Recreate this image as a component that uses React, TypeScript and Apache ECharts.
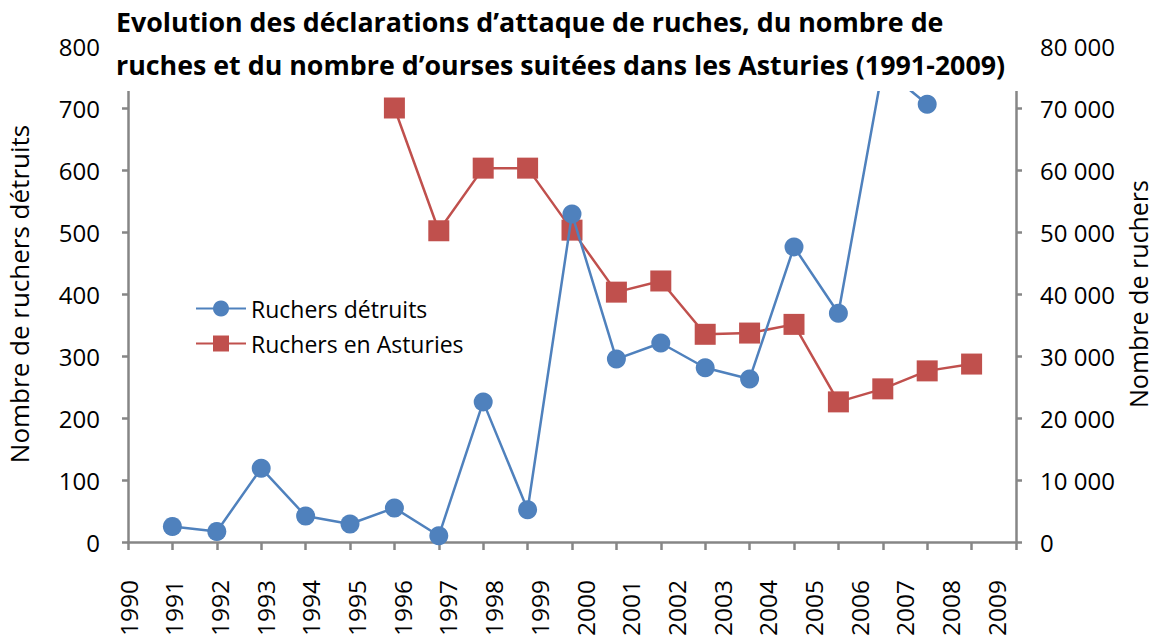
import React, { useEffect, useRef } from "react";
import * as echarts from "echarts";

const years = ["1990","1991","1992","1993","1994","1995","1996","1997","1998","1999","2000","2001","2002","2003","2004","2005","2006","2007","2008","2009","2010"];
const ruchersDetruits = [null, 25, 17, 119, 42, 29, 55, 10, 226, 52, 529, 295, 321, 281, 263, 476, 369, 765, 706, null, null];
const ruchersAsturies = [null, null, null, null, null, null, 70000, 50200, 60300, 60300, 50300, 40300, 42100, 33500, 33700, 35100, 22600, 24700, 27600, 28700, null];
const leftTicks = [0, 100, 200, 300, 400, 500, 600, 700, 800];
const rightTicks = [0, 10000, 20000, 30000, 40000, 50000, 60000, 70000, 80000];

const FONT = "Open Sans";
const AXIS_COLOR = "#868686";

export default function App() {
  const ref = useRef<HTMLDivElement>(null);
  useEffect(() => {
    if (!ref.current) return;
    const chart = echarts.init(ref.current, null, { renderer: "svg" });
    const fmt = (v: number) => String(v).replace(/\B(?=(\d{3})+(?!\d))/g, " ");
    chart.setOption({
      animation: false,
      backgroundColor: "#ffffff",
      title: {
        text: "Evolution des déclarations d’attaque de ruches, du nombre de\nruches et du nombre d’ourses suitées dans les Asturies (1991-2009)",
        left: 116,
        top: 0,
        padding: 0,
        z: 10,
        textStyle: { fontFamily: FONT, fontWeight: "bold", fontSize: 26.8, lineHeight: 43, color: "#000" },
      },
      legend: {
        orient: "vertical",
        left: 190,
        top: 292,
        itemWidth: 50,
        itemHeight: 20,
        itemGap: 12,
        textStyle: { fontFamily: FONT, fontSize: 23, color: "#000", lineHeight: 20 },
        data: ["Ruchers détruits", "Ruchers en Asturies"],
      },
      grid: [
        { left: 128, width: 888, top: 46, height: 496, containLabel: false, outerBoundsMode: "none" },
        { left: 128, width: 914, top: 46, height: 496, containLabel: false, outerBoundsMode: "none" },
      ],
      xAxis: [
        {
          type: "category",
          gridIndex: 0,
          data: years,
          boundaryGap: false,
          axisLine: { show: true, lineStyle: { color: AXIS_COLOR, width: 2.5 } },
          axisTick: { show: true, length: 8, interval: 0, lineStyle: { color: AXIS_COLOR, width: 2.5 } },
          axisLabel: { show: false },
          splitLine: { show: false },
        },
        {
          type: "category",
          gridIndex: 1,
          data: years,
          boundaryGap: false,
          axisLine: { show: false },
          axisTick: { show: false },
          axisLabel: {
            interval: 0,
            rotate: 90,
            margin: 38,
            fontFamily: FONT,
            fontSize: 24.5,
            color: "#000",
            formatter: (v: string) => (v === "2010" ? "" : v),
          },
          splitLine: { show: false },
        },
      ],
      yAxis: [
        {
          type: "value",
          gridIndex: 0,
          min: leftTicks[0],
          max: leftTicks[leftTicks.length - 1],
          interval: 100,
          name: "Nombre de ruchers détruits",
          nameLocation: "middle",
          nameRotate: 90,
          nameGap: 96,
          nameTextStyle: { fontFamily: FONT, fontSize: 26, color: "#000" },
          axisLine: { show: true, lineStyle: { color: AXIS_COLOR, width: 2.5 } },
          axisTick: { show: true, length: 6, lineStyle: { color: AXIS_COLOR, width: 2.5 } },
          axisLabel: { margin: 28, fontFamily: FONT, fontSize: 24, color: "#000" },
          splitLine: { show: false },
        },
        {
          type: "value",
          gridIndex: 0,
          position: "right",
          min: rightTicks[0],
          max: rightTicks[rightTicks.length - 1],
          interval: 10000,
          name: "Nombre de ruchers",
          nameLocation: "middle",
          nameRotate: 90,
          nameGap: 108,
          nameTextStyle: { fontFamily: FONT, fontSize: 25, color: "#000" },
          axisLine: { show: true, lineStyle: { color: AXIS_COLOR, width: 2.5 } },
          axisTick: { show: true, length: 6, lineStyle: { color: AXIS_COLOR, width: 2.5 } },
          axisLabel: { margin: 24, fontFamily: FONT, fontSize: 24, color: "#000", formatter: fmt },
          splitLine: { show: false },
        },
        { type: "value", gridIndex: 1, show: false, min: 0, max: 800 },
      ],
      graphic: [
        {
          type: "rect",
          z: 5,
          silent: true,
          shape: { x: 116, y: 0, width: 908, height: 91 },
          style: { fill: "#ffffff" },
        },
      ],
      series: [
        {
          name: "Ruchers détruits",
          type: "line",
          xAxisIndex: 0,
          yAxisIndex: 0,
          data: ruchersDetruits,
          symbol: "circle",
          symbolSize: 19,
          itemStyle: { color: "#4F81BD" },
          lineStyle: { color: "#4F81BD", width: 2.5 },
          z: 3,
        },
        {
          name: "Ruchers en Asturies",
          type: "line",
          xAxisIndex: 0,
          yAxisIndex: 1,
          data: ruchersAsturies,
          symbol: "rect",
          symbolSize: 21,
          itemStyle: { color: "#C0504D" },
          lineStyle: { color: "#C0504D", width: 2.5 },
          z: 2,
        },
      ],
    });
    return () => chart.dispose();
  }, []);
  return <div ref={ref} style={{ position: "fixed", left: 0, top: 0, width: 1158, height: 637 }} />;
}
